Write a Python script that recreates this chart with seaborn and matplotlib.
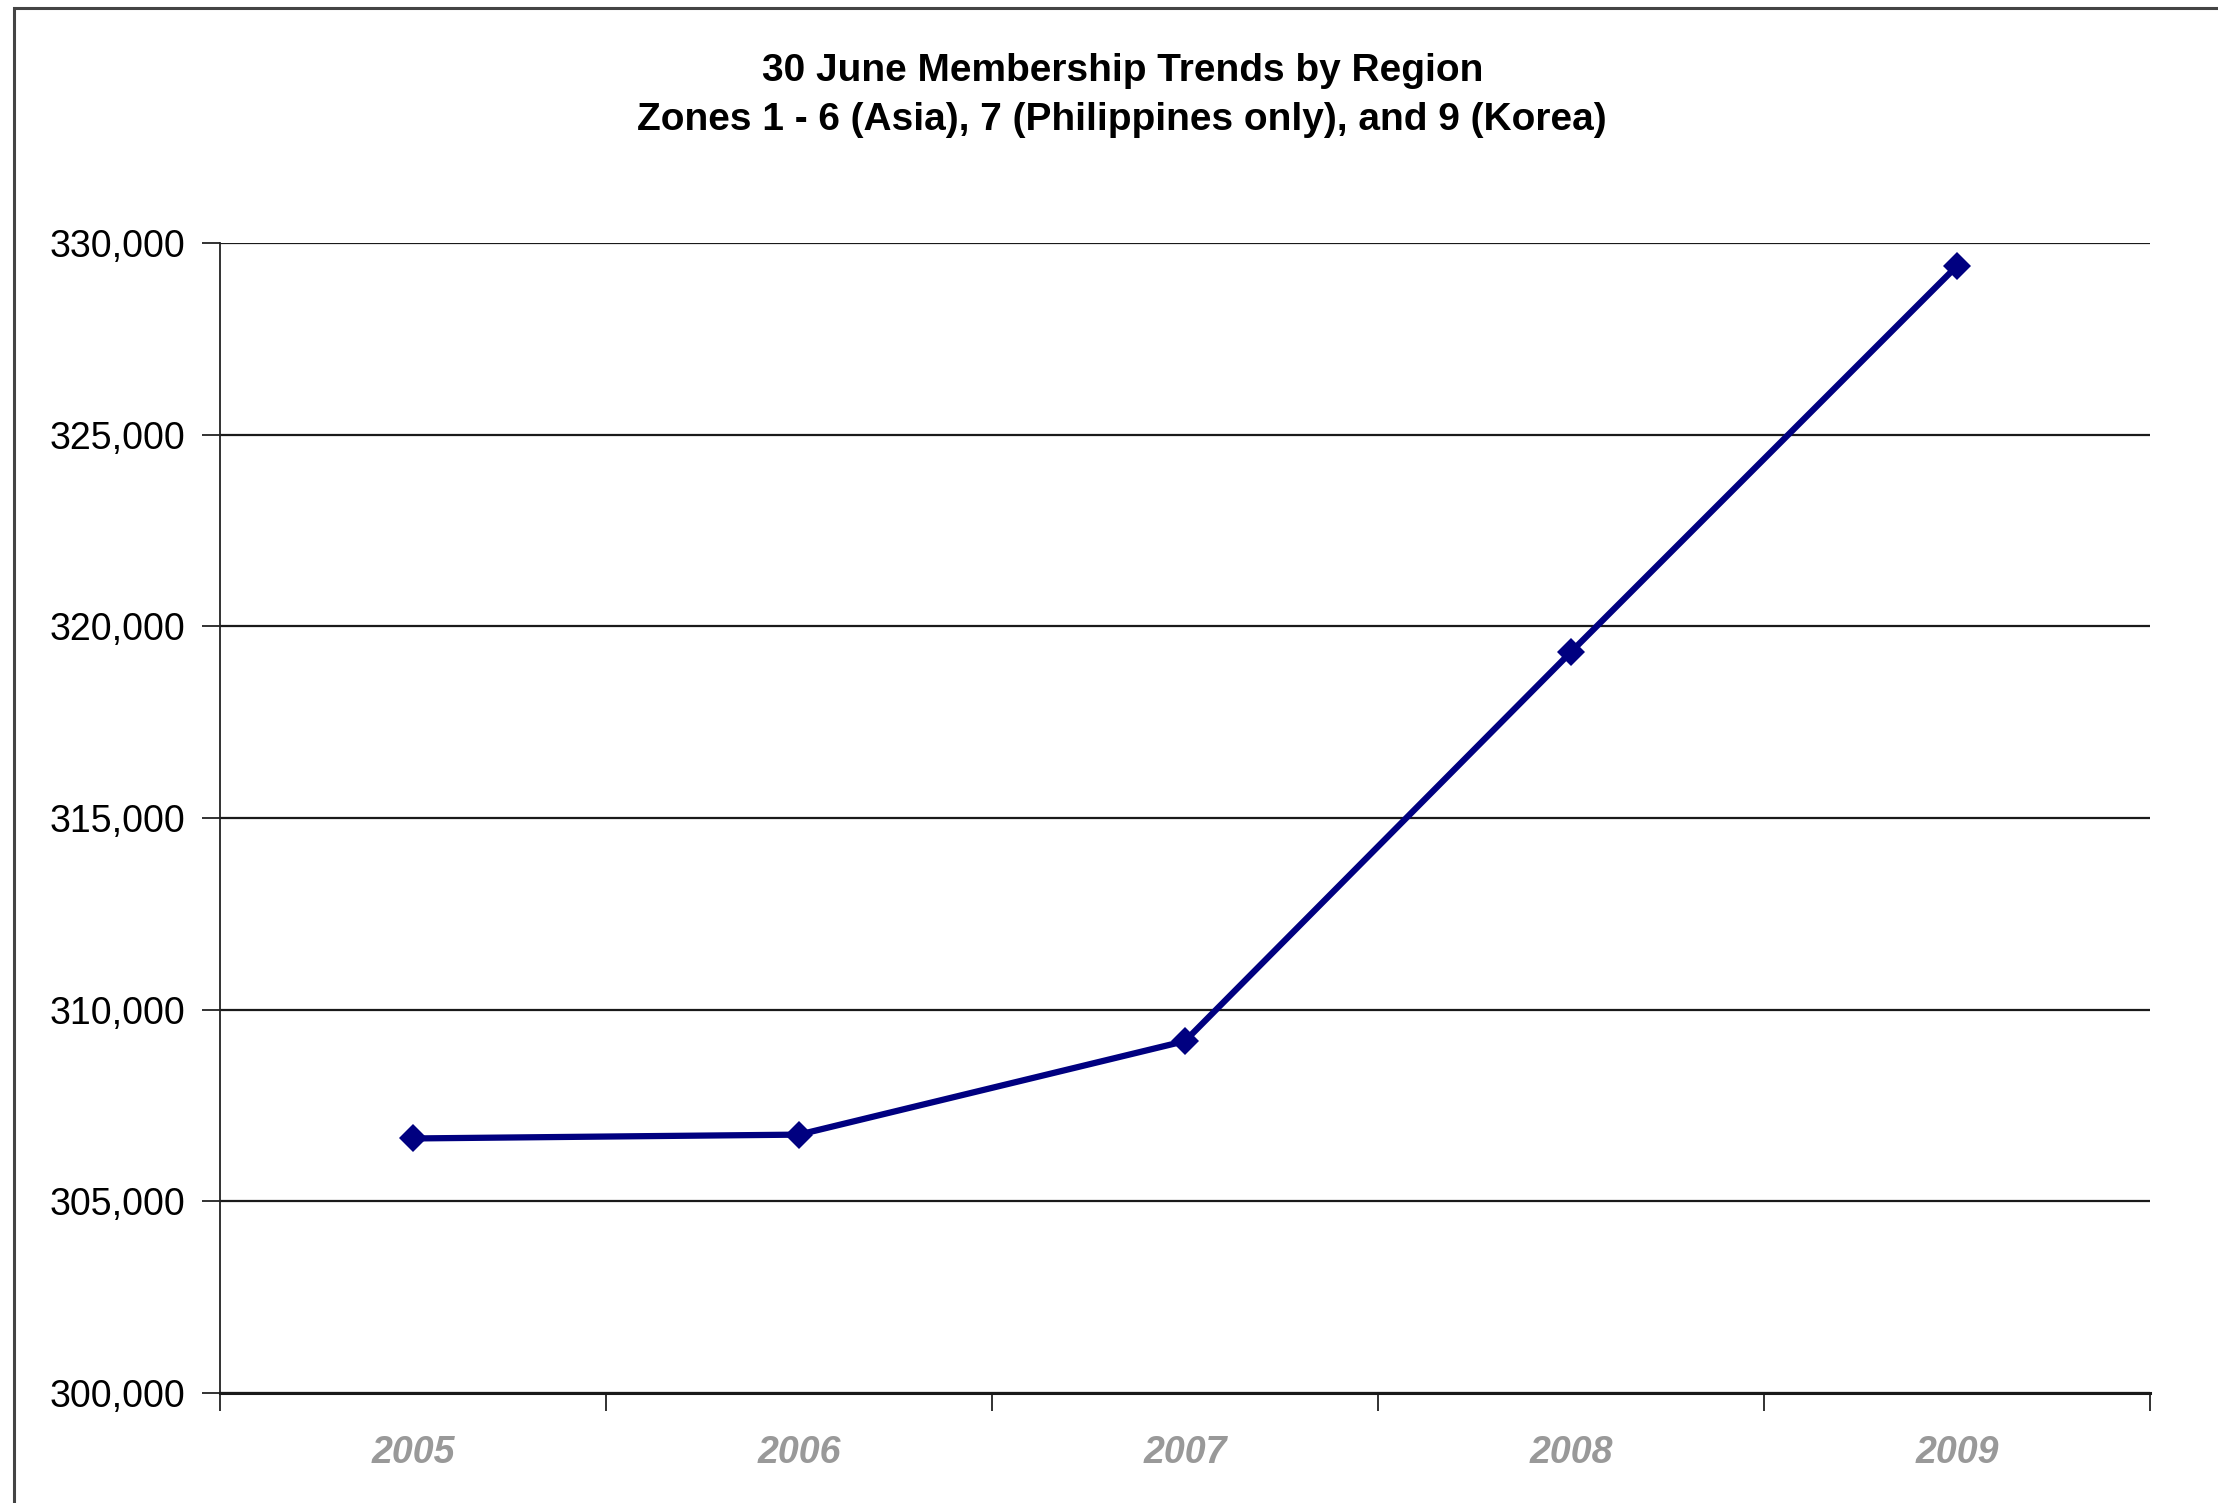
import pandas as pd
import seaborn as sns
import matplotlib.pyplot as plt
from matplotlib.patches import Rectangle
from matplotlib.ticker import FuncFormatter, FixedLocator

# values
years = ['2005', '2006', '2007', '2008', '2009']
members = [306640, 306740, 309180, 319330, 329400]
y_ticks = [300000, 305000, 310000, 315000, 320000, 325000, 330000]

title_1 = '30 June Membership Trends by Region'
title_2 = 'Zones 1 - 6 (Asia), 7 (Philippines only), and 9 (Korea)'


def draw_chart():
    df = pd.DataFrame({'Year': years, 'Members': members})

    sns.set_style('white')
    plt.rcParams['font.family'] = ['Liberation Sans', 'DejaVu Sans']
    plt.rcParams['text.color'] = 'black'

    fig = plt.figure(figsize=(22.18, 15.03), dpi=100)
    ax = fig.add_axes([0.0992, 0.0732, 0.8701, 0.7651])

    sns.lineplot(data=df, x='Year', y='Members', ax=ax, color='#000080',
                 linewidth=4.5, marker='D', markersize=14, markeredgewidth=0)

    ax.set_xlim(-0.5, len(years) - 0.5)
    ax.set_ylim(y_ticks[0], y_ticks[-1])
    ax.set_yticks(y_ticks)
    ax.yaxis.set_major_formatter(FuncFormatter(lambda v, p: f'{int(v):,}'))
    for y in y_ticks:
        ax.axhline(y, color='#1a1a1a', linewidth=1.6, zorder=1)

    # tick marks between categories, labels centred under each year
    ax.xaxis.set_major_locator(FixedLocator([i - 0.5 for i in range(len(years) + 1)]))
    ax.xaxis.set_major_formatter(FuncFormatter(lambda v, p: ''))
    ax.xaxis.set_minor_locator(FixedLocator(list(range(len(years)))))
    ax.set_xticklabels(years, minor=True)
    ax.tick_params(axis='x', which='major', length=13, width=1.3, color='#222222',
                   direction='out', bottom=True)
    ax.tick_params(axis='x', which='minor', length=0, pad=30, labelsize=27,
                   labelcolor='#999999')
    for lab in ax.get_xticklabels(minor=True):
        lab.set_fontweight('bold')
        lab.set_fontstyle('italic')
    ax.tick_params(axis='y', length=13, width=1.3, color='#222222', direction='out',
                   left=True, labelsize=27, pad=12, labelcolor='black')

    ax.set_xlabel('')
    ax.set_ylabel('')
    for side in ['top', 'right']:
        ax.spines[side].set_visible(False)
    ax.spines['left'].set_color('#222222')
    ax.spines['left'].set_linewidth(1.3)
    ax.spines['bottom'].set_color('#1a1a1a')
    ax.spines['bottom'].set_linewidth(2.2)

    fig.text(0.506, 1 - 71 / 1503, title_1, ha='center', va='center',
             fontsize=28, fontweight='bold', color='black')
    fig.text(0.506, 1 - 120 / 1503, title_2, ha='center', va='center',
             fontsize=28, fontweight='bold', color='black')

    # outer chart frame, cut off on the right and bottom
    fig.add_artist(Rectangle((14 / 2218, -0.1), 2, 1.1 - 8 / 1503, fill=False,
                             edgecolor='#444444', linewidth=2.2,
                             transform=fig.transFigure))

    fig.savefig('out.png', dpi=100, facecolor='white')


if __name__ == '__main__':
    draw_chart()
